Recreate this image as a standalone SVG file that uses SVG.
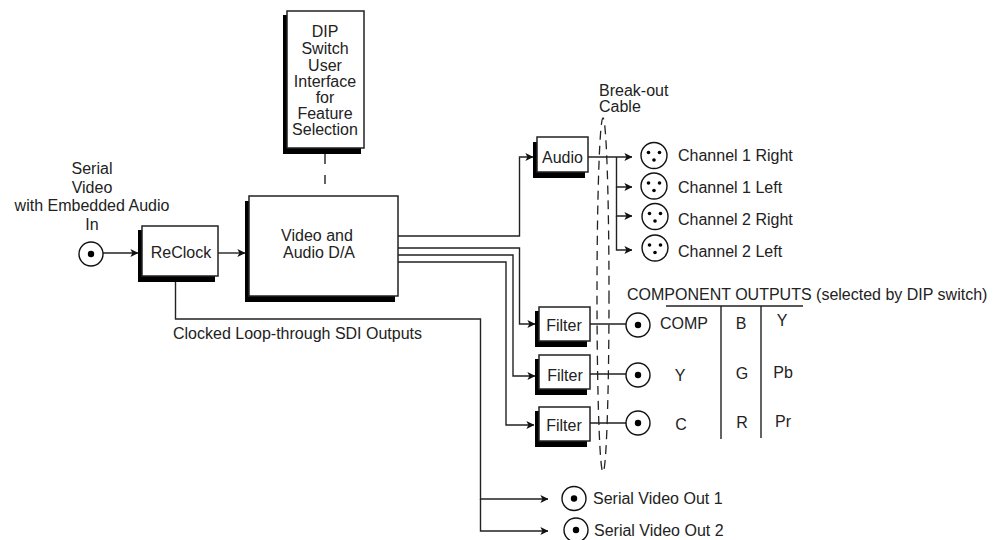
<svg xmlns="http://www.w3.org/2000/svg" width="995" height="540" viewBox="0 0 995 540">
<style>
text{font-family:"Liberation Sans",Arial,sans-serif;font-size:16px;fill:#222}
.m{text-anchor:middle}
.b{fill:#fff;stroke:#222;stroke-width:1.5}
.s{fill:#000}
.c{fill:#fff;stroke:#111;stroke-width:1.4}
.d{fill:#000}
.l{fill:none;stroke:#222;stroke-width:1.4}
</style>
<defs>
<marker id="a" viewBox="0 0 10 10" refX="9.5" refY="5" markerWidth="8" markerHeight="8" markerUnits="userSpaceOnUse" orient="auto"><path d="M0 0L10 5L0 10L2.5 5Z" fill="#111"/></marker>
<g id="bnc"><circle class="c" r="12"/><circle class="d" r="3.2"/></g>
<g id="xlr"><circle class="c" r="13"/><circle class="d" cx="-5.5" cy="-3" r="1.8"/><circle class="d" cx="5.5" cy="-3" r="1.8"/><circle class="d" cx="0" cy="4.5" r="1.8"/></g>
</defs>
<g id="connectors">
<path class="l" d="M325 154V164M325 175V184"/>
<ellipse cx="603" cy="295" rx="6" ry="177" fill="none" stroke="#222" stroke-width="1.3" stroke-dasharray="9 6"/>
<path class="l" marker-end="url(#a)" d="M103 253H138"/>
<path class="l" marker-end="url(#a)" d="M218 253H245"/>
<path class="l" marker-end="url(#a)" d="M398 236H519.500V157H533"/>
<path class="l" marker-end="url(#a)" d="M398 248H519.500V324H535"/>
<path class="l" marker-end="url(#a)" d="M398 255H513V376H535"/>
<path class="l" marker-end="url(#a)" d="M398 262H506V425H534"/>
<path class="l" marker-end="url(#a)" d="M588 157H632"/>
<path class="l" marker-end="url(#a)" d="M616.500 157V187H632"/>
<path class="l" marker-end="url(#a)" d="M616.500 187V216H632"/>
<path class="l" marker-end="url(#a)" d="M616.500 216V250H632"/>
<path class="l" d="M590 324H626M590 374H626M590 423H626"/>
<path class="l" marker-end="url(#a)" d="M175.500 282V319H480.500V499H548"/>
<path class="l" marker-end="url(#a)" d="M480.500 499V531H548"/>
<path class="l" d="M666 306H803M721 306V439M761 306V438"/>
</g>
<g id="dip"><rect class="s" x="283" y="15" width="78" height="139"/><rect class="b" x="287" y="11" width="77" height="137"/>
<text class="m" x="325" y="37">DIP</text><text class="m" x="325" y="54">Switch</text><text class="m" x="325" y="71">User</text><text class="m" x="325" y="87">Interface</text><text class="m" x="325" y="103">for</text><text class="m" x="325" y="119">Feature</text><text class="m" x="325" y="135">Selection</text></g>
<g id="reclock"><rect class="s" x="138" y="230" width="77" height="52"/><rect class="b" x="142" y="226" width="76" height="50"/><text class="m" x="181" y="258">ReClock</text></g>
<g id="video"><rect class="s" x="245" y="201" width="150" height="101"/><rect class="b" x="249" y="196" width="149" height="100"/><text class="m" x="317" y="241">Video and</text><text class="m" x="319" y="258">Audio D/A</text></g>
<g id="audio"><rect class="s" x="533" y="142" width="52" height="36"/><rect class="b" x="537" y="137" width="51" height="35"/><text class="m" x="562.500" y="163">Audio</text></g>
<g id="filter1"><rect class="s" x="535" y="311" width="52" height="36"/><rect class="b" x="539" y="307" width="51" height="34"/><text class="m" x="564" y="331">Filter</text></g>
<g id="filter2"><rect class="s" x="535" y="359" width="52" height="36"/><rect class="b" x="539" y="355" width="51" height="34"/><text class="m" x="565" y="381">Filter</text></g>
<g id="filter3"><rect class="s" x="535" y="411" width="52" height="36"/><rect class="b" x="539" y="407" width="51" height="34"/><text class="m" x="564" y="431">Filter</text></g>
<g id="input"><use href="#bnc" x="91" y="254"/><text class="m" x="92" y="174">Serial</text><text class="m" x="92" y="193">Video</text><text class="m" x="92" y="211">with Embedded Audio</text><text class="m" x="92" y="230">In</text></g>
<g id="loop-label"><text x="173" y="339">Clocked Loop-through SDI Outputs</text></g>
<g id="cable-label"><text x="599" y="96">Break-out</text><text x="599" y="112">Cable</text></g>
<g id="xlr1"><use href="#xlr" x="654" y="155.500"/><text x="678" y="161">Channel 1 Right</text></g>
<g id="xlr2"><use href="#xlr" x="654" y="186"/><text x="678" y="193">Channel 1 Left</text></g>
<g id="xlr3"><use href="#xlr" x="655" y="216.500"/><text x="678" y="225">Channel 2 Right</text></g>
<g id="xlr4"><use href="#xlr" x="655" y="248"/><text x="678" y="257">Channel 2 Left</text></g>
<g id="bnc1"><use href="#bnc" x="638" y="325"/></g>
<g id="bnc2"><use href="#bnc" x="638" y="375"/></g>
<g id="bnc3"><use href="#bnc" x="638" y="423"/></g>
<g id="out1"><use href="#bnc" x="574" y="498.500"/><text x="593" y="504">Serial Video Out 1</text></g>
<g id="out2"><use href="#bnc" x="576" y="530"/><text x="594" y="536">Serial Video Out 2</text></g>
<g id="component">
<text x="627" y="300">COMPONENT OUTPUTS (selected by DIP switch)</text>
<text class="m" x="684" y="329">COMP</text><text class="m" x="680" y="381">Y</text><text class="m" x="681" y="430">C</text>
<text class="m" x="741" y="329">B</text><text class="m" x="742" y="379">G</text><text class="m" x="742" y="428">R</text>
<text class="m" x="782" y="326">Y</text><text class="m" x="783" y="378">Pb</text><text class="m" x="783" y="427">Pr</text>
</g>
</svg>
